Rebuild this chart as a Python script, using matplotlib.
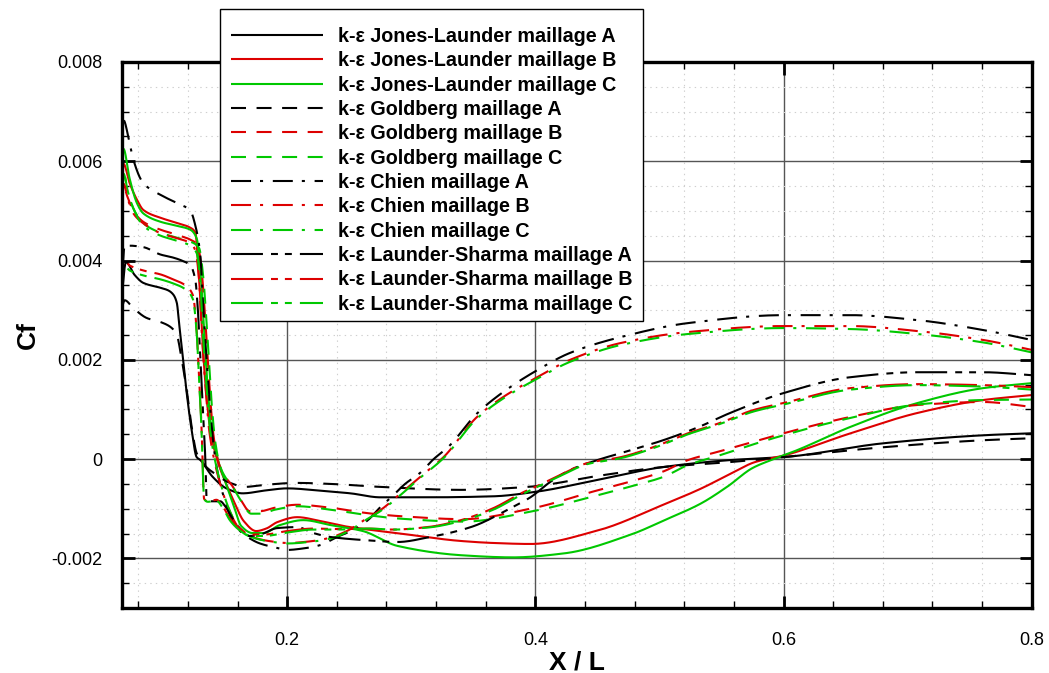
import matplotlib
matplotlib.use("Agg")
import matplotlib.pyplot as plt
from matplotlib.ticker import MultipleLocator, FixedLocator, FuncFormatter
from matplotlib.patches import Rectangle
import numpy as np

plt.rcParams['font.family'] = ['Liberation Sans', 'DejaVu Sans']
plt.rcParams['lines.scale_dashes'] = False

# ---------------- data (x = X/L, y = Cf * 1e3) ----------------
jl_a_x = [0.0667, 0.070, 0.077, 0.084, 0.098, 0.104, 0.108, 0.111, 0.113, 0.115, 0.119, 0.123, 0.127,
          0.130, 0.140, 0.151, 0.164, 0.183, 0.200, 0.224, 0.251, 0.275, 0.315, 0.366, 0.400, 0.450,
          0.503, 0.557, 0.600, 0.681, 0.761, 0.800]
jl_a_y = [3.30, 3.97, 3.71, 3.55, 3.45, 3.40, 3.32, 3.15, 2.70, 2.26, 1.33, 0.58, 0.04,
          -0.02, -0.36, -0.59, -0.69, -0.63, -0.59, -0.63, -0.69, -0.77, -0.77, -0.75, -0.66, -0.42,
          -0.16, -0.02, 0.04, 0.32, 0.48, 0.52]

jl_b_x = [0.0667, 0.068, 0.073, 0.079, 0.084, 0.098, 0.111, 0.122, 0.126, 0.128, 0.130, 0.132, 0.135,
          0.138, 0.144, 0.150, 0.157, 0.165, 0.175, 0.183, 0.192, 0.208, 0.227, 0.248, 0.265, 0.291,
          0.340, 0.366, 0.396, 0.450, 0.503, 0.533, 0.557, 0.577, 0.600, 0.654, 0.708, 0.761, 0.800]
jl_b_y = [5.30, 5.95, 5.56, 5.22, 5.02, 4.86, 4.76, 4.66, 4.56, 4.00, 3.20, 2.26, 1.24,
          0.59, -0.05, -0.45, -0.85, -1.25, -1.45, -1.40, -1.27, -1.17, -1.25, -1.36, -1.42, -1.50,
          -1.65, -1.69, -1.71, -1.44, -0.92, -0.60, -0.30, -0.06, 0.07, 0.52, 0.93, 1.19, 1.29]

jl_c_x = [0.0667, 0.068, 0.073, 0.079, 0.084, 0.098, 0.111, 0.122, 0.127, 0.130, 0.133, 0.136, 0.139,
          0.144, 0.150, 0.157, 0.163, 0.172, 0.181, 0.194, 0.213, 0.235, 0.261, 0.289, 0.342, 0.382,
          0.423, 0.477, 0.505, 0.533, 0.555, 0.575, 0.592, 0.610, 0.654, 0.708, 0.761, 0.800]
jl_c_y = [5.60, 6.25, 5.65, 5.15, 4.95, 4.78, 4.70, 4.62, 4.45, 3.80, 2.60, 1.40, 0.60,
          0.00, -0.45, -0.95, -1.35, -1.49, -1.49, -1.33, -1.23, -1.33, -1.45, -1.75, -1.94, -1.98,
          -1.90, -1.52, -1.22, -0.90, -0.55, -0.18, 0.00, 0.17, 0.65, 1.13, 1.43, 1.53]

gb_a_x = [0.0667, 0.069, 0.076, 0.087, 0.098, 0.106, 0.111, 0.115, 0.119, 0.123, 0.127, 0.134, 0.142,
          0.154, 0.166, 0.181, 0.208, 0.235, 0.275, 0.340, 0.394, 0.450, 0.503, 0.557, 0.600, 0.681,
          0.761, 0.800]
gb_a_y = [3.05, 3.20, 3.04, 2.84, 2.76, 2.66, 2.50, 2.00, 1.39, 0.65, 0.12, -0.14, -0.30,
          -0.48, -0.56, -0.52, -0.48, -0.50, -0.56, -0.62, -0.56, -0.34, -0.16, -0.06, 0.04, 0.24,
          0.38, 0.42]

gb_b_x = [0.0667, 0.068, 0.071, 0.076, 0.084, 0.098, 0.111, 0.122, 0.128, 0.131, 0.134, 0.136, 0.138,
          0.141, 0.145, 0.150, 0.156, 0.162, 0.170, 0.178, 0.190, 0.208, 0.235, 0.265, 0.291, 0.342,
          0.396, 0.450, 0.477, 0.503, 0.523, 0.549, 0.576, 0.600, 0.654, 0.708, 0.761, 0.800]
gb_b_y = [4.60, 5.50, 5.30, 5.00, 4.78, 4.62, 4.52, 4.42, 4.30, 3.80, 2.80, 2.00, 1.20,
          0.40, -0.10, -0.35, -0.55, -0.80, -1.05, -1.05, -0.98, -0.92, -0.98, -1.09, -1.15, -1.21,
          -1.00, -0.63, -0.45, -0.25, -0.02, 0.16, 0.35, 0.52, 0.85, 1.09, 1.15, 1.05]

gb_c_x = [0.0667, 0.068, 0.071, 0.076, 0.084, 0.098, 0.111, 0.122, 0.129, 0.132, 0.135, 0.137, 0.139,
          0.142, 0.146, 0.151, 0.157, 0.163, 0.171, 0.179, 0.190, 0.208, 0.235, 0.265, 0.291, 0.342,
          0.396, 0.450, 0.477, 0.503, 0.523, 0.549, 0.576, 0.600, 0.654, 0.708, 0.761, 0.800]
gb_c_y = [4.90, 5.80, 5.45, 5.05, 4.75, 4.56, 4.46, 4.38, 4.25, 3.75, 2.75, 1.95, 1.15,
          0.35, -0.15, -0.40, -0.60, -0.85, -1.10, -1.10, -1.02, -0.95, -1.02, -1.13, -1.20, -1.26,
          -1.06, -0.73, -0.55, -0.36, -0.12, 0.08, 0.30, 0.48, 0.83, 1.10, 1.19, 1.20]

ch_a_x = [0.0667, 0.068, 0.072, 0.076, 0.084, 0.098, 0.111, 0.122, 0.126, 0.130, 0.132, 0.135, 0.138,
          0.141, 0.145, 0.150, 0.155, 0.162, 0.168, 0.178, 0.192, 0.200, 0.213, 0.227, 0.240, 0.253,
          0.265, 0.275, 0.283, 0.295, 0.307, 0.318, 0.330, 0.353, 0.374, 0.400, 0.428, 0.469, 0.523,
          0.600, 0.654, 0.708, 0.761, 0.800]
ch_a_y = [6.00, 6.83, 6.49, 6.03, 5.56, 5.32, 5.16, 5.00, 4.70, 4.10, 3.20, 2.00, 1.00,
          0.20, -0.40, -0.85, -1.20, -1.45, -1.57, -1.70, -1.79, -1.83, -1.80, -1.73, -1.57, -1.43,
          -1.23, -0.97, -0.79, -0.50, -0.28, 0.00, 0.25, 0.92, 1.35, 1.77, 2.14, 2.46, 2.74,
          2.90, 2.90, 2.80, 2.60, 2.40]

ch_b_x = [0.0667, 0.068, 0.072, 0.076, 0.084, 0.098, 0.111, 0.122, 0.126, 0.129, 0.131, 0.134, 0.137,
          0.141, 0.146, 0.152, 0.160, 0.170, 0.185, 0.200, 0.221, 0.235, 0.248, 0.265, 0.275, 0.291,
          0.307, 0.326, 0.353, 0.374, 0.400, 0.428, 0.469, 0.523, 0.600, 0.654, 0.708, 0.761, 0.800]
ch_b_y = [4.50, 5.55, 5.20, 4.95, 4.75, 4.55, 4.45, 4.35, 4.20, 3.60, 2.60, 1.50, 0.60,
          0.00, -0.50, -0.95, -1.35, -1.55, -1.65, -1.69, -1.65, -1.58, -1.45, -1.18, -1.03, -0.70,
          -0.36, 0.04, 0.85, 1.25, 1.63, 2.00, 2.34, 2.56, 2.68, 2.68, 2.58, 2.40, 2.20]

ch_c_x = [0.0667, 0.068, 0.072, 0.076, 0.084, 0.098, 0.111, 0.122, 0.127, 0.130, 0.132, 0.135, 0.138,
          0.142, 0.147, 0.153, 0.161, 0.171, 0.186, 0.200, 0.221, 0.235, 0.248, 0.265, 0.275, 0.291,
          0.307, 0.326, 0.353, 0.374, 0.400, 0.428, 0.469, 0.523, 0.600, 0.654, 0.708, 0.761, 0.800]
ch_c_y = [4.70, 5.75, 5.35, 5.05, 4.70, 4.50, 4.40, 4.30, 4.15, 3.55, 2.55, 1.45, 0.55,
          -0.05, -0.55, -1.00, -1.38, -1.57, -1.66, -1.70, -1.66, -1.60, -1.47, -1.20, -1.05, -0.73,
          -0.38, 0.02, 0.82, 1.22, 1.60, 1.96, 2.30, 2.52, 2.64, 2.62, 2.52, 2.35, 2.15]

ls_a_x = [0.0667, 0.069, 0.073, 0.084, 0.098, 0.108, 0.115, 0.122, 0.126, 0.128, 0.130, 0.132, 0.134,
          0.135, 0.138, 0.146, 0.150, 0.156, 0.162, 0.170, 0.178, 0.192, 0.208, 0.221, 0.235, 0.261,
          0.289, 0.315, 0.348, 0.380, 0.396, 0.412, 0.428, 0.450, 0.477, 0.503, 0.531, 0.557, 0.600,
          0.654, 0.708, 0.761, 0.800]
ls_a_y = [3.60, 4.30, 4.30, 4.27, 4.12, 4.06, 4.00, 3.90, 3.60, 3.00, 2.00, 1.00, 0.00,
          -0.80, -0.85, -0.85, -0.95, -1.20, -1.40, -1.55, -1.52, -1.39, -1.37, -1.49, -1.57, -1.63,
          -1.67, -1.57, -1.37, -0.99, -0.77, -0.46, -0.22, -0.02, 0.18, 0.38, 0.64, 0.93, 1.33,
          1.65, 1.75, 1.75, 1.69]

ls_b_x = [0.0667, 0.068, 0.073, 0.084, 0.098, 0.108, 0.118, 0.124, 0.127, 0.129, 0.131, 0.132, 0.133,
          0.136, 0.143, 0.148, 0.154, 0.162, 0.170, 0.181, 0.200, 0.221, 0.240, 0.265, 0.285, 0.313,
          0.340, 0.366, 0.390, 0.400, 0.420, 0.442, 0.469, 0.495, 0.523, 0.549, 0.576, 0.600, 0.654,
          0.708, 0.761, 0.800]
ls_b_y = [3.30, 4.00, 3.90, 3.80, 3.72, 3.62, 3.50, 3.30, 2.60, 1.60, 0.60, -0.30, -0.80,
          -0.85, -0.82, -0.95, -1.20, -1.40, -1.52, -1.52, -1.45, -1.40, -1.41, -1.40, -1.42, -1.37,
          -1.23, -0.99, -0.67, -0.56, -0.32, -0.08, 0.04, 0.24, 0.52, 0.73, 0.99, 1.13, 1.43,
          1.51, 1.49, 1.45]

ls_c_x = [0.0667, 0.068, 0.073, 0.084, 0.098, 0.108, 0.118, 0.124, 0.127, 0.129, 0.131, 0.132, 0.133,
          0.136, 0.143, 0.148, 0.154, 0.162, 0.170, 0.181, 0.200, 0.221, 0.240, 0.265, 0.285, 0.313,
          0.340, 0.366, 0.390, 0.400, 0.420, 0.442, 0.469, 0.495, 0.523, 0.549, 0.576, 0.600, 0.654,
          0.708, 0.761, 0.800]
ls_c_y = [3.20, 3.90, 3.80, 3.70, 3.62, 3.54, 3.42, 3.22, 2.55, 1.55, 0.55, -0.30, -0.80,
          -0.86, -0.84, -0.98, -1.24, -1.44, -1.55, -1.55, -1.48, -1.42, -1.42, -1.40, -1.42, -1.38,
          -1.25, -1.02, -0.70, -0.58, -0.34, -0.10, 0.02, 0.22, 0.50, 0.71, 0.96, 1.10, 1.40,
          1.49, 1.46, 1.40]

labels = [
    "k-ε Jones-Launder maillage A", "k-ε Jones-Launder maillage B", "k-ε Jones-Launder maillage C",
    "k-ε Goldberg maillage A", "k-ε Goldberg maillage B", "k-ε Goldberg maillage C",
    "k-ε Chien maillage A", "k-ε Chien maillage B", "k-ε Chien maillage C",
    "k-ε Launder-Sharma maillage A", "k-ε Launder-Sharma maillage B", "k-ε Launder-Sharma maillage C",
]
series = [(jl_a_x, jl_a_y), (jl_b_x, jl_b_y), (jl_c_x, jl_c_y),
          (gb_a_x, gb_a_y), (gb_b_x, gb_b_y), (gb_c_x, gb_c_y),
          (ch_a_x, ch_a_y), (ch_b_x, ch_b_y), (ch_c_x, ch_c_y),
          (ls_a_x, ls_a_y), (ls_b_x, ls_b_y), (ls_c_x, ls_c_y)]

x_ticks = [0.2, 0.4, 0.6, 0.8]
y_ticks = [-0.002, 0, 0.002, 0.004, 0.006, 0.008]

# ---------------- style ----------------
BLACK, RED, GREEN = '#000000', '#dd0000', '#00c800'
colors = [BLACK, RED, GREEN] * 4
dash_solid = None
dash_dash = (10.8, 7.6)
dash_chien = (14.4, 6.5, 2.2, 7.0)
dash_ls = (23.0, 5.8, 5.0, 5.0, 5.0, 5.8)
dashes = [dash_solid] * 3 + [dash_dash] * 3 + [dash_chien] * 3 + [dash_ls] * 3

W, H = 1049, 673
fig = plt.figure(figsize=(W / 100, H / 100), dpi=100)
ax = fig.add_axes([121.7 / W, 1 - 608 / H, (1031.7 - 121.7) / W, (608 - 62) / H])


def smooth(xs, ys):
    xs = np.asarray(xs, float)
    ys = np.asarray(ys, float)
    n = len(xs)
    h = np.diff(xs)
    d = np.diff(ys) / h
    m = np.zeros(n)
    m[0], m[-1] = d[0], d[-1]
    for i in range(1, n - 1):
        if d[i - 1] * d[i] <= 0:
            m[i] = 0
        else:
            w1 = 2 * h[i] + h[i - 1]
            w2 = h[i] + 2 * h[i - 1]
            m[i] = (w1 + w2) / (w1 / d[i - 1] + w2 / d[i])
    xo, yo = [], []
    for i in range(n - 1):
        t = np.linspace(0, 1, 25, endpoint=(i == n - 2))
        h00 = 2 * t**3 - 3 * t**2 + 1
        h10 = t**3 - 2 * t**2 + t
        h01 = -2 * t**3 + 3 * t**2
        h11 = t**3 - t**2
        xo.append(xs[i] + t * h[i])
        yo.append(h00 * ys[i] + h10 * h[i] * m[i] + h01 * ys[i + 1] + h11 * h[i] * m[i + 1])
    return np.concatenate(xo), np.concatenate(yo)


handles = []
for (xs, ys), c, ds, lab in zip(series, colors, dashes, labels):
    sx, sy = smooth(xs, ys)
    ln, = ax.plot(sx, sy * 1e-3, color=c, lw=1.5, label=lab, solid_capstyle='butt',
                  dash_capstyle='butt')
    if ds is not None:
        ln.set_dashes(ds)
    handles.append(ln)

ax.set_xlim(0.0666, 0.8)
ax.set_ylim(-0.003, 0.008)

ax.xaxis.set_major_locator(FixedLocator(x_ticks))
ax.xaxis.set_minor_locator(MultipleLocator(0.04))
ax.yaxis.set_major_locator(FixedLocator(y_ticks))
ax.yaxis.set_minor_locator(MultipleLocator(0.0005))
ax.yaxis.set_major_formatter(FuncFormatter(lambda v, p: '0' if abs(v) < 1e-12 else f'{v:.3f}'))
ax.xaxis.set_major_formatter(FuncFormatter(lambda v, p: f'{v:.1f}'))

ax.grid(which='major', color='#555555', lw=1.0, ls='-')
ax.grid(which='minor', color='#cfcfcf', lw=0.8, ls=(0, (1, 3)))
ax.set_axisbelow(True)

ax.tick_params(which='both', direction='in', top=True, right=True, labelsize=13)
ax.tick_params(which='major', length=9, width=2)
ax.tick_params(which='minor', length=5, width=1)
ax.tick_params(axis='x', which='major', pad=17)
ax.tick_params(axis='y', which='major', pad=14)
for sp in ax.spines.values():
    sp.set_linewidth(2.4)

ax.set_xlabel('X / L', fontsize=19, fontweight='bold', labelpad=1)
ax.set_ylabel('Cf', fontsize=19, fontweight='bold', labelpad=8)

# legend frame (drawn separately so the rows can sit as in the original)
frame = Rectangle((220 / W, 1 - 321 / H), (643 - 220) / W, (321 - 9) / H,
                  transform=fig.transFigure, facecolor='white', edgecolor='black',
                  lw=1.0, zorder=4)
fig.patches.append(frame)

leg = fig.legend(handles=handles, loc='upper left', bbox_to_anchor=(220 / W, 1 - 16 / H),
                 bbox_transform=fig.transFigure, prop={'weight': 'bold', 'size': 14.2},
                 frameon=False, handlelength=4.65, handletextpad=0.8, labelspacing=0.272,
                 borderpad=0.55, borderaxespad=0)
leg.set_zorder(5)

fig.savefig('out.png', dpi=100)
